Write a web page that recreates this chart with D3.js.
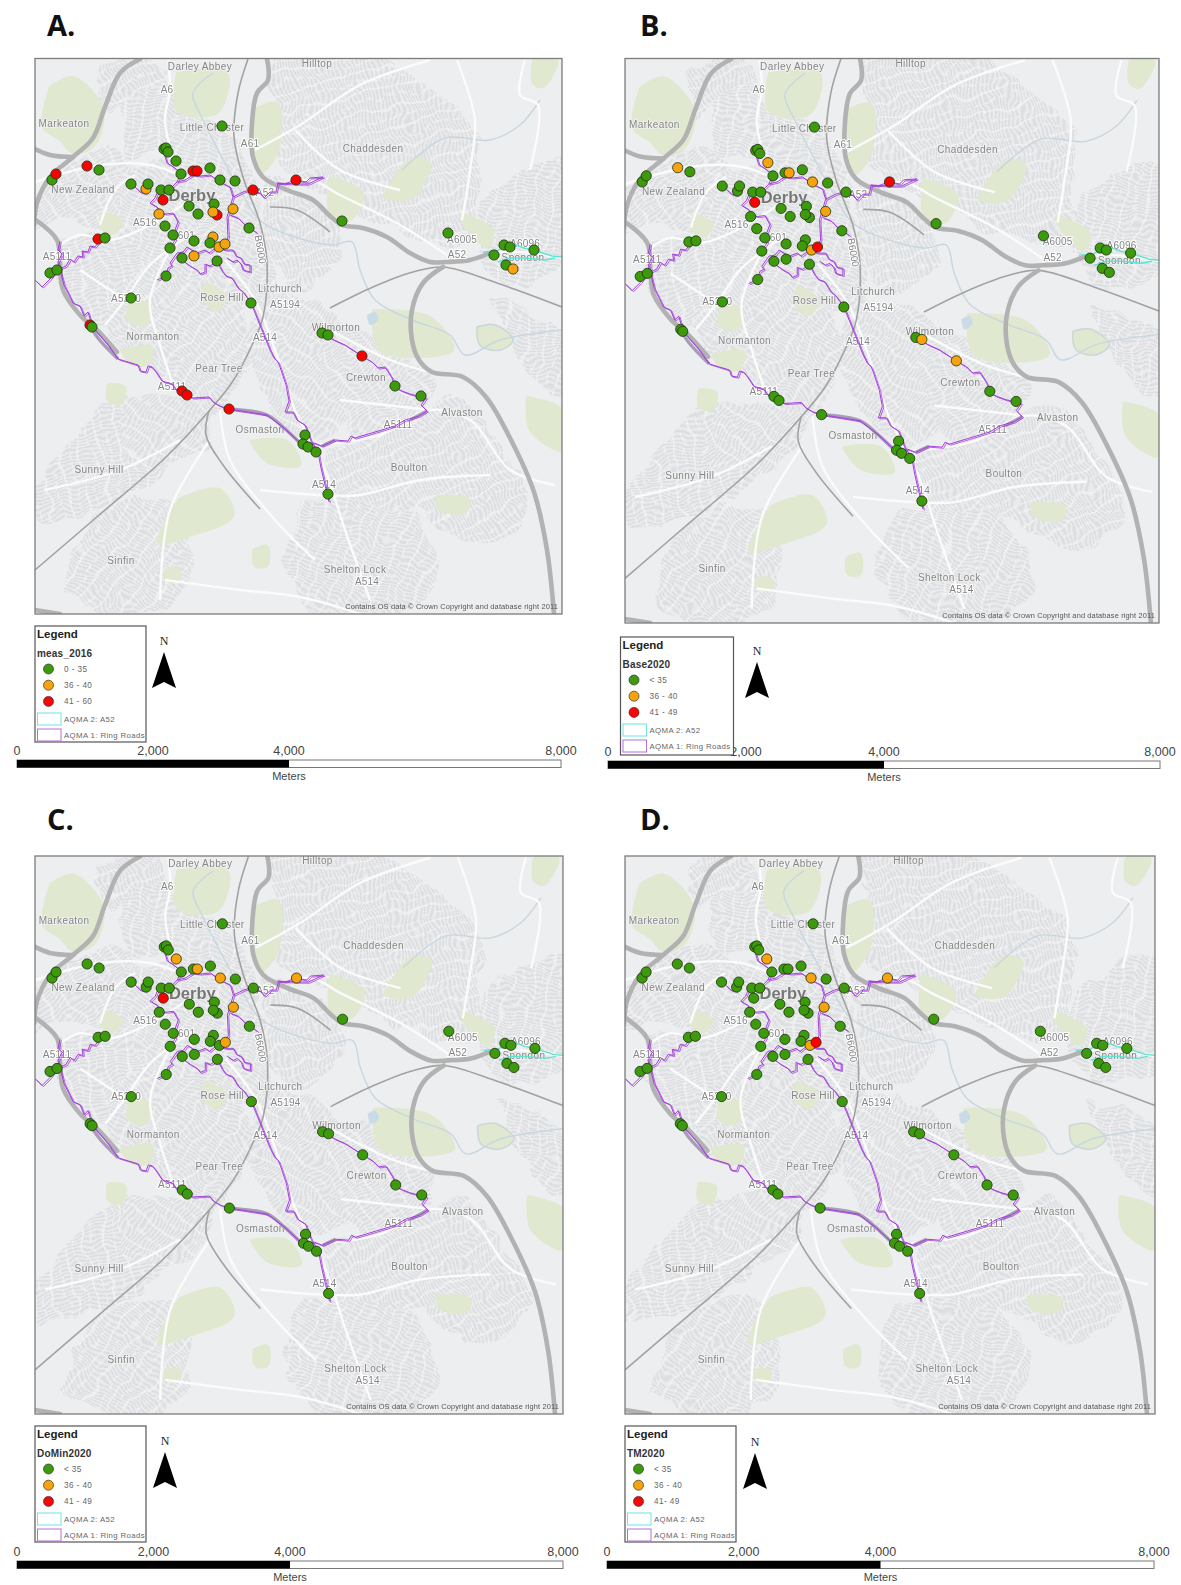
<!DOCTYPE html>
<html>
<head>
<meta charset="utf-8">
<script src="https://cdn.jsdelivr.net/npm/d3@7"></script>
<style>
  body { margin: 0; background: #fff; }
  text { font-family: "Liberation Sans", Arial, sans-serif; }
</style>
</head>
<body>
<div id="maps"></div>
<script>
// page size
var svgWidth = 1181;
var svgHeight = 1585;

// map units (same base map in all four panels)
var mapX = [35, 562];
var mapY = [58.5, 614];

// monitoring sites, map units
var sites = [
  [222,126],[164,149],[166,148],[168,152],[176,161],[181,174],[193,171],[197,171],[210,168],[220,180],
  [235,181],[253,190],[296,180],[52,180],[56,174],[87,166],[99,170],[131,184],[146,189],[148,184],
  [161,190],[169,190],[163,200],[159,214],[165,226],[173,235],[170,248],[194,241],[182,258],[194,256],
  [166,276],[189,206],[198,214],[217,215],[214,204],[213,212],[233,209],[249,228],[213,237],[210,243],
  [219,247],[225,244],[217,261],[251,303],[98,239],[105,238],[50,273],[57,270],[131,298],[90,325],
  [92,327],[322,333],[328,335],[362,356],[395,386],[421,396],[182,391],[187,395],[229,409],[305,435],
  [303,444],[308,447],[316,452],[328,494],[342,221],[448,233],[504,245],[510,247],[534,250],[494,255],
  [506,265],[513,269]
];

// concentration band of each site (0 low, 1 middle, 2 high), one list per panel
var meas2016 = [
  0,0,0,0,0,0,2,2,0,0,
  0,2,2,0,2,2,0,0,1,0,
  0,0,2,1,0,0,0,0,0,1,
  0,0,0,2,0,1,1,0,1,0,
  1,1,0,0,2,0,0,0,0,2,
  0,0,0,2,0,0,2,2,2,0,
  0,0,0,0,0,0,0,0,0,0,
  0,1
];
var base2020 = [
  0,0,0,0,1,0,0,1,0,1,
  0,0,2,0,0,1,0,0,0,0,
  0,0,2,0,0,0,0,0,0,0,
  0,0,0,0,0,0,1,0,0,0,
  1,2,0,0,0,0,0,0,0,0,
  0,0,1,1,0,0,0,0,0,0,
  0,0,0,0,0,0,0,0,0,0,
  0,0
];
var doMin2020 = [
  0,0,0,0,1,0,0,1,0,1,
  0,0,1,0,0,0,0,0,0,0,
  0,0,2,0,0,0,0,0,0,0,
  0,0,0,0,0,0,1,0,0,0,
  0,1,0,0,0,0,0,0,0,0,
  0,0,0,0,0,0,0,0,0,0,
  0,0,0,0,0,0,0,0,0,0,
  0,0
];
var tm2020 = [
  0,0,0,0,1,0,0,0,0,1,
  0,0,1,0,0,0,0,0,0,0,
  0,0,0,0,0,0,0,0,0,0,
  0,0,0,0,0,0,1,0,0,0,
  1,2,0,0,0,0,0,0,0,0,
  0,0,0,0,0,0,0,0,0,0,
  0,0,0,0,0,0,0,0,0,0,
  0,0
];

var bandColors = ["#3c9a0c", "#f7a30b", "#fb0505"];

// legend text
var bandsMeas = ["0 - 35", "36 - 40", "41 - 60"];
var bandsBase = ["< 35", "36 - 40", "41 - 49"];
var bandsTm = ["< 35", "36 - 40", "41- 49"];

// scale bar
var scaleTicks = [0, 2000, 4000, 8000];

// base map, map units
var urbanAreas = [
  [[122,95],[160,72],[180,112],[205,118],[232,135],[245,175],[200,170],[160,155],[128,155]],
  [[30,195],[75,158],[118,148],[140,178],[132,218],[102,230],[60,220],[30,235]],
  [[96,72],[125,58],[150,56],[165,75],[125,98],[108,115]],
  [[122,172],[245,165],[262,230],[272,305],[225,305],[138,280],[115,240]],
  [[56,238],[122,236],[145,278],[112,325],[85,315],[60,285]],
  [[106,322],[140,272],[228,296],[252,348],[210,415],[180,392],[150,366],[118,350]],
  [[262,296],[295,296],[345,326],[362,405],[312,436],[282,424],[248,348]],
  [[268,56],[375,56],[445,100],[478,130],[478,185],[470,240],[400,230],[340,200],[310,185],[280,165],[272,100]],
  [[486,190],[566,158],[566,268],[500,282],[476,240]],
  [[316,322],[360,326],[428,372],[428,405],[360,436],[336,402]],
  [[326,448],[420,416],[455,396],[498,442],[530,505],[480,545],[420,512],[330,506]],
  [[306,500],[412,515],[436,585],[385,618],[318,612],[284,562]],
  [[32,490],[120,400],[178,436],[148,486],[92,512],[40,520]],
  [[62,590],[98,515],[178,505],[182,596],[122,618]],
  [[126,396],[210,408],[194,456],[126,458]],
  [[262,175],[330,215],[345,250],[300,290],[272,262]],
  [[496,300],[562,330],[562,395],[520,360]]
];
var parks = [
  [[50,87],[73,77],[103,110],[93,147],[73,153],[60,140],[43,127]],
  [[177,73],[227,73],[217,113],[177,110]],
  [[253,110],[277,103],[277,153],[260,173]],
  [[383,197],[410,160],[430,163],[413,197],[397,200]],
  [[330,177],[363,193],[350,220],[330,213]],
  [[460,213],[493,230],[487,247],[463,223]],
  [[533,60],[557,60],[543,87],[533,83]],
  [[373,310],[430,317],[453,350],[380,350]],
  [[179,499],[219,489],[233,516],[189,536],[158,543]],
  [[436,496],[469,499],[466,512],[439,509]],
  [[253,550],[267,546],[267,566],[255,566]],
  [[165,570],[179,570],[179,580],[165,580]],
  [[121,350],[152,347],[148,364],[131,364]],
  [[527,397],[562,410],[562,450],[530,430]],
  [[108,384],[125,387],[121,404],[108,401]],
  [[250,441],[287,441],[300,465],[267,462]],
  [[104,212],[122,222],[112,234],[100,226]],
  [[130,300],[150,305],[145,325],[128,320]],
  [[205,283],[225,295],[218,310],[203,300]],
  [[477,327],[495,325],[513,340],[500,350],[480,345]]
];
var motorways = [
  [[140,59],[120,73],[105,107],[93,138],[73,157],[50,177],[37,203],[34,225]],
  [[33,148],[50,155],[73,157]],
  [[36,220],[57,240],[60,263],[63,290],[80,315],[97,330],[117,352]],
  [[267,59],[268,80],[257,93],[252,123],[253,157],[263,177],[287,190],[313,200],[330,216],[342,225],[363,228],[387,237],[410,253],[430,262],[447,262],[470,260],[490,253]],
  [[443,267],[423,283],[412,310],[412,340],[419,360],[432,372],[463,377],[486,397],[510,438],[534,492],[547,550],[554,614]],
  [[35,610],[60,614]]
];
var railways = [
  [[248,59],[238,93],[234,137],[243,177],[260,223],[267,263],[263,317],[253,343],[233,381],[209,411],[165,458],[98,516],[35,570]],
  [[209,411],[206,435],[223,465],[260,509]],
  [[270,207],[297,210],[330,232]],
  [[330,308],[373,287],[413,272],[443,267],[497,283],[562,307]]
];
var aRoads = [
  [[168,60],[170,90],[165,120],[175,165]],
  [[35,182],[100,165],[150,165],[190,180]],
  [[190,200],[150,225],[110,240],[80,235],[60,245]],
  [[190,235],[150,265],[125,300],[105,325]],
  [[225,260],[255,300],[275,350],[295,410],[325,470],[345,530],[370,600]],
  [[175,240],[150,300],[160,345],[175,390]],
  [[315,445],[380,435],[430,410],[470,420],[510,470],[555,485]],
  [[268,190],[310,180],[340,195],[400,225],[447,255]],
  [[255,150],[300,125],[360,85],[430,60]],
  [[457,60],[475,120],[470,170],[462,220]],
  [[260,490],[320,495],[360,495],[420,480],[490,475]],
  [[165,580],[240,590],[300,597],[360,614]],
  [[220,410],[230,460],[275,520],[315,560]],
  [[490,253],[520,252],[562,258]],
  [[525,60],[520,95],[538,105],[530,170]],
  [[100,225],[115,190],[135,175]],
  [[125,300],[80,270]],
  [[330,330],[390,360],[430,372]],
  [[340,400],[430,410]],
  [[160,600],[170,510],[210,440]],
  [[45,490],[120,470],[180,440]],
  [[295,130],[340,170],[400,190]]
];
var rivers = [
  [[213,73],[193,93],[203,120],[218,150],[240,190],[262,222],[330,245],[352,242],[360,270],[375,300],[412,320],[450,335],[465,355],[500,340],[562,330]],
  [[402,170],[445,138],[490,140],[520,125],[540,100]],
  [[477,327],[495,325],[513,340],[500,350],[480,345],[477,327]]
];
var lakes = [
  [[367,315],[375,312],[378,320],[370,325]]
];

// wider stretches of AQMA 1 where the dual carriageway shows grey inside the outline
var ringBands = [
  [[88,322],[98,338],[118,359]],
  [[229,409],[267,415],[284,428],[300,443]],
  [[322,446],[335,440]],
  [[410,420],[427,411]]
];
// AQMA 1 outline, map units
var ringRoads = [
  [[35,280],[42,287],[50,279],[57,270],[66,266],[70,259],[74,262],[78,256],[83,257],[82,251],[88,252],[90,246],[95,247],[100,240]],
  [[60,241],[58,250],[62,254],[58,262],[60,270],[64,285],[73,303],[80,306],[84,316],[88,312],[91,322],[95,330],[108,345],[118,359],[128,362],[138,365],[140,371],[146,372],[148,366],[152,367],[156,372],[162,381],[172,384],[176,390],[182,391],[192,398],[209,397],[213,402],[220,406],[229,409],[267,415],[284,428],[300,443],[314,443],[322,446],[335,440],[348,441],[351,436],[355,438],[375,432],[395,426],[405,420],[419,416],[427,411],[421,405],[426,398],[418,396],[410,394],[402,391],[396,388],[395,386],[392,378],[385,367],[378,368],[372,362],[362,356],[345,345],[334,340],[322,333]],
  [[217,261],[222,271],[226,276],[232,278],[238,288],[243,292],[251,303],[270,350],[274,358],[278,362],[280,367],[286,385],[289,401],[285,412],[293,412],[297,420],[305,425],[311,441],[318,452],[321,468],[325,485],[329,502]],
  [[157,280],[166,276],[168,268],[172,266],[170,263],[177,253],[183,252],[187,247],[192,250],[197,253],[205,250],[209,253],[217,247],[225,250],[233,250],[236,256],[241,258],[244,264],[250,265],[250,272],[243,270],[241,264],[237,260],[233,262],[227,258]],
  [[182,260],[190,266],[197,270],[200,274],[205,272],[205,264],[210,266],[215,263],[217,261]],
  [[170,248],[175,240],[175,230],[178,222],[173,213],[166,214],[160,213],[157,207],[150,203],[155,198],[157,193],[169,190],[177,182],[185,180],[193,175],[200,176],[210,175],[220,182],[230,187],[233,197],[243,192],[250,190],[260,193],[264,198],[270,192],[276,192],[278,183],[284,184],[296,180],[306,182],[310,178],[323,177],[308,184],[297,184],[277,183]],
  [[233,197],[227,217],[228,237],[225,244]],
  [[230,215],[238,218],[245,225],[257,233]],
  [[135,187],[140,192],[146,193]],
  [[163,150],[167,163],[172,166],[181,173],[177,182]]
];
// AQMA 2 outline, map units
var a52Area = [
  [[483,252],[497,251],[510,243],[524,248],[540,252],[552,256],[562,257]],
  [[498,262],[510,258],[525,258],[545,260],[555,258]]
];

// map labels: text, x, y
var placeLabels = [
  ["Darley Abbey",200,66],["Hilltop",317,63],["Markeaton",64,123],["Little Chester",212,127],
  ["New Zealand",83,189],["Rose Hill",222,297],["Litchurch",280,288],["Normanton",153,336],
  ["Chaddesden",373,148],["Spondon",523,257],["Wilmorton",336,327],["Crewton",366,377],
  ["Pear Tree",219,368],["Alvaston",462,412],["Osmaston",260,429],["Sunny Hill",99,469],
  ["Boulton",409,467],["Sinfin",121,560],["Shelton Lock",355,569]
];
var roadLabels = [
  ["A6",167,89],["A61",250,143],["A516",145,222],["A5111",57,256],["A52",265,192],
  ["A601",183,235],["A5194",285,304],["A5250",126,298],["A514",265,337],["A6005",462,239],
  ["A52",457,254],["A6096",525,243],["A5111",398,424],["A5111",172,386],["A514",324,484],
  ["A514",367,581],["A52",25,147]
];

// panel layout in page pixels
var panels = [
  { title: "A.", titleX: 47, titleY: 36, x: [35, 562], y: [58.5, 614], values: meas2016,
    field: "meas_2016", bands: bandsMeas, legend: [35, 626, 111, 116], north: 164, northY: 640,
    bar: [17, 561], barY: 760 },
  { title: "B.", titleX: 640, titleY: 36, x: [625, 1159], y: [58.5, 623], values: base2020,
    field: "Base2020", bands: bandsBase, legend: [620.5, 637, 113, 118], north: 757, northY: 650,
    bar: [608, 1160], barY: 761 },
  { title: "C.", titleX: 47, titleY: 830, x: [35, 563], y: [856, 1414], values: doMin2020,
    field: "DoMin2020", bands: bandsBase, legend: [35, 1426, 111, 116], north: 165, northY: 1440,
    bar: [17, 563], barY: 1561 },
  { title: "D.", titleX: 640, titleY: 830, x: [625, 1155], y: [856, 1414], values: tm2020,
    field: "TM2020", bands: bandsTm, legend: [625, 1426, 111, 116], north: 755, northY: 1441,
    bar: [607, 1154], barY: 1561 }
];

var svg = d3.select("#maps")
  .append("svg")
  .attr("width", svgWidth)
  .attr("height", svgHeight)
  .style("display", "block");

var defs = svg.append("defs");

defs.append("filter")
  .attr("id", "soft")
  .append("feGaussianBlur")
  .attr("stdDeviation", 0.4);

// bends the street tiles so the estates do not look like a ruled grid
var wobble = defs.append("filter")
  .attr("id", "wobble")
  .attr("x", "-5%").attr("y", "-5%").attr("width", "110%").attr("height", "110%");
wobble.append("feTurbulence")
  .attr("type", "fractalNoise")
  .attr("baseFrequency", 0.035)
  .attr("numOctaves", 2)
  .attr("seed", 7)
  .attr("result", "noise");
wobble.append("feDisplacementMap")
  .attr("in", "SourceGraphic")
  .attr("in2", "noise")
  .attr("scale", 20)
  .attr("xChannelSelector", "R")
  .attr("yChannelSelector", "G");

// street texture for the built up areas, one tile at a few angles
var streetAngles = [12, -35, 62, 24, -12, 40, -55, 75];
streetAngles.forEach(function(angle, i) {
  var tile = defs.append("pattern")
    .attr("id", "streets" + i)
    .attr("patternUnits", "userSpaceOnUse")
    .attr("width", 20)
    .attr("height", 12)
    .attr("patternTransform", "rotate(" + angle + ")");
  tile.append("rect").attr("width", 20).attr("height", 12).attr("fill", "#dddee1");
  [2, 6, 10].forEach(function(y) {
    tile.append("line").attr("x1", 0).attr("x2", 20).attr("y1", y).attr("y2", y)
      .attr("stroke", "#f8f8f8").attr("stroke-width", 1);
  });
  tile.append("line").attr("x1", 4).attr("x2", 4).attr("y1", 0).attr("y2", 12)
    .attr("stroke", "#f8f8f8").attr("stroke-width", 1.2);
  tile.append("line").attr("x1", 14).attr("x2", 14).attr("y1", 2).attr("y2", 10)
    .attr("stroke", "#f8f8f8").attr("stroke-width", 0.9);
});

panels.forEach(function(panel, p) { drawPanel(panel, p); });

function drawPanel(panel, p) {
  var xScale = d3.scaleLinear().domain(mapX).range(panel.x);
  var yScale = d3.scaleLinear().domain(mapY).range(panel.y);
  var path = d3.line().x(d => xScale(d[0])).y(d => yScale(d[1]));
  var smooth = d3.line().x(d => xScale(d[0])).y(d => yScale(d[1])).curve(d3.curveCatmullRom);

  svg.append("text")
    .attr("x", panel.titleX)
    .attr("y", panel.titleY)
    .attr("font-size", 29)
    .attr("font-weight", "bold")
    .style("font-family", "'Open Sans', sans-serif")
    .attr("fill", "#111")
    .text(panel.title);

  defs.append("clipPath")
    .attr("id", "frame" + p)
    .append("rect")
    .attr("x", panel.x[0])
    .attr("y", panel.y[0])
    .attr("width", panel.x[1] - panel.x[0])
    .attr("height", panel.y[1] - panel.y[0]);

  var map = svg.append("g")
    .attr("clip-path", "url(#frame" + p + ")")
    .append("g")
    .attr("filter", "url(#soft)");

  map.append("rect")
    .attr("x", panel.x[0])
    .attr("y", panel.y[0])
    .attr("width", panel.x[1] - panel.x[0])
    .attr("height", panel.y[1] - panel.y[0])
    .attr("fill", "#eceef0");

  map.append("g")
    .attr("filter", "url(#wobble)")
    .selectAll("path")
    .data(urbanAreas)
    .enter()
    .append("path")
    .attr("d", d => smooth(d.concat([d[0]])))
    .attr("fill", (d, i) => "url(#streets" + (i % streetAngles.length) + ")");

  map.selectAll(".park")
    .data(parks)
    .enter()
    .append("path")
    .attr("d", d => smooth(d.concat([d[0]])))
    .attr("fill", "#e0e8d0")
    .attr("stroke", "#e0e8d0")
    .attr("stroke-linejoin", "round")
    .attr("stroke-width", 2);

  map.selectAll(".lake")
    .data(lakes)
    .enter()
    .append("path")
    .attr("d", d => smooth(d.concat([d[0]])))
    .attr("fill", "#c9dbe6");

  map.selectAll(".river")
    .data(rivers)
    .enter()
    .append("path")
    .attr("d", d => smooth(d))
    .attr("fill", "none")
    .attr("stroke", "#c8d7df")
    .attr("stroke-width", 1.4);

  map.selectAll(".aroad")
    .data(aRoads)
    .enter()
    .append("path")
    .attr("d", d => smooth(d))
    .attr("fill", "none")
    .attr("stroke", "#fbfbfb")
    .attr("stroke-width", 2.4);

  map.selectAll(".rail")
    .data(railways)
    .enter()
    .append("path")
    .attr("d", d => smooth(d))
    .attr("fill", "none")
    .attr("stroke", "#a2a2a2")
    .attr("stroke-width", 1.6);

  map.selectAll(".motorway")
    .data(motorways)
    .enter()
    .append("path")
    .attr("d", d => smooth(d))
    .attr("fill", "none")
    .attr("stroke", "#b2b2b2")
    .attr("stroke-linecap", "round")
    .attr("stroke-width", 4.6);

  // place names and road numbers
  map.selectAll(".place")
    .data(placeLabels)
    .enter()
    .append("text")
    .attr("x", d => xScale(d[1]))
    .attr("y", d => yScale(d[2]) + 3.5)
    .attr("text-anchor", "middle")
    .attr("font-size", 10)
    .attr("letter-spacing", 0.4)
    .attr("fill", "#858585")
    .attr("stroke", "#f2f2f2")
    .attr("stroke-width", 1.6)
    .attr("paint-order", "stroke")
    .text(d => d[0]);

  map.selectAll(".road")
    .data(roadLabels)
    .enter()
    .append("text")
    .attr("x", d => xScale(d[1]))
    .attr("y", d => yScale(d[2]) + 3.5)
    .attr("text-anchor", "middle")
    .attr("font-size", 10)
    .attr("letter-spacing", 0.2)
    .attr("fill", "#858585")
    .attr("stroke", "#fff")
    .attr("stroke-width", 2)
    .attr("paint-order", "stroke")
    .text(d => d[0]);

  map.append("text")
    .attr("transform", "translate(" + xScale(257) + "," + yScale(250) + ") rotate(80)")
    .attr("text-anchor", "middle")
    .attr("font-size", 10)
    .attr("fill", "#858585")
    .attr("stroke", "#fff")
    .attr("stroke-width", 2)
    .attr("paint-order", "stroke")
    .text("B6000");

  map.append("text")
    .attr("x", xScale(192))
    .attr("y", yScale(195) + 6)
    .attr("text-anchor", "middle")
    .attr("font-size", 16.5)
    .attr("font-weight", "bold")
    .attr("fill", "#777")
    .attr("stroke", "#eee")
    .attr("stroke-width", 1.6)
    .attr("paint-order", "stroke")
    .text("Derby");

  map.append("text")
    .attr("x", panel.x[1] - 4)
    .attr("y", panel.y[1] - 5)
    .attr("text-anchor", "end")
    .attr("font-size", 7.4)
    .attr("letter-spacing", 0.15)
    .attr("fill", "#555")
    .text("Contains OS data © Crown Copyright and database right 2011");

  // AQMA outlines: the polygon edge runs either side of the road, so draw it twice
  var aqma = map.append("g").attr("fill", "none").attr("stroke-linejoin", "round");
  aqma.selectAll(".band")
    .data(ringBands)
    .enter()
    .append("path")
    .attr("d", d => smooth(d))
    .attr("stroke", "#a79db6")
    .attr("stroke-width", 3.4);
  aqma.selectAll(".ring")
    .data(ringRoads)
    .enter()
    .append("path")
    .attr("d", d => path(d))
    .attr("stroke", "#a340dc")
    .attr("stroke-width", 1);
  aqma.selectAll(".ring2")
    .data(ringRoads)
    .enter()
    .append("path")
    .attr("d", d => path(d))
    .attr("transform", "translate(1.4,1.1)")
    .attr("stroke", "#a340dc")
    .attr("stroke-width", 0.8);
  aqma.selectAll(".a52")
    .data(a52Area)
    .enter()
    .append("path")
    .attr("d", d => path(d))
    .attr("stroke", "#5fe3d3")
    .attr("stroke-width", 1.4);

  // monitoring sites
  map.selectAll(".site")
    .data(sites)
    .enter()
    .append("circle")
    .attr("cx", d => xScale(d[0]))
    .attr("cy", d => yScale(d[1]))
    .attr("r", 5.1)
    .attr("fill", (d, i) => bandColors[panel.values[i]])
    .attr("stroke", "#1c2f0c")
    .attr("stroke-width", 0.8);

  // frame
  svg.append("rect")
    .attr("x", panel.x[0])
    .attr("y", panel.y[0])
    .attr("width", panel.x[1] - panel.x[0])
    .attr("height", panel.y[1] - panel.y[0])
    .attr("fill", "none")
    .attr("stroke", "#7c7c7c")
    .attr("stroke-width", 1.3);

  drawScaleBar(panel);
  drawLegend(panel);
  drawNorth(panel);
}

function drawScaleBar(panel) {
  var barScale = d3.scaleLinear().domain([0, 8000]).range(panel.bar);
  var g = svg.append("g");

  g.append("rect")
    .attr("x", barScale(0))
    .attr("y", panel.barY)
    .attr("width", barScale(8000) - barScale(0))
    .attr("height", 7.5)
    .attr("fill", "#fff")
    .attr("stroke", "#777");
  g.append("rect")
    .attr("x", barScale(0))
    .attr("y", panel.barY)
    .attr("width", barScale(4000) - barScale(0))
    .attr("height", 7.5)
    .attr("fill", "#000");

  g.selectAll("text")
    .data(scaleTicks)
    .enter()
    .append("text")
    .attr("x", d => barScale(d))
    .attr("y", panel.barY - 5)
    .attr("text-anchor", "middle")
    .attr("font-size", 12.5)
    .attr("fill", "#444")
    .text(d => d3.format(",")(d));

  g.append("text")
    .attr("x", barScale(4000))
    .attr("y", panel.barY + 20)
    .attr("text-anchor", "middle")
    .attr("font-size", 11)
    .attr("fill", "#444")
    .text("Meters");
}

function drawLegend(panel) {
  var lx = panel.legend[0], ly = panel.legend[1];
  var g = svg.append("g");

  g.append("rect")
    .attr("x", lx)
    .attr("y", ly)
    .attr("width", panel.legend[2])
    .attr("height", panel.legend[3])
    .attr("fill", "#fff")
    .attr("stroke", "#555")
    .attr("stroke-width", 1.2);

  g.append("text")
    .attr("x", lx + 2)
    .attr("y", ly + 11.5)
    .attr("font-size", 11.5)
    .attr("font-weight", "bold")
    .attr("fill", "#222")
    .text("Legend");

  g.append("text")
    .attr("x", lx + 2)
    .attr("y", ly + 31)
    .attr("font-size", 10)
    .attr("font-weight", "bold")
    .attr("letter-spacing", 0.2)
    .attr("fill", "#333")
    .text(panel.field);

  panel.bands.forEach(function(label, i) {
    g.append("circle")
      .attr("cx", lx + 13.5)
      .attr("cy", ly + 43 + i * 16.2)
      .attr("r", 5)
      .attr("fill", bandColors[i])
      .attr("stroke", "#333")
      .attr("stroke-width", 0.7);
    g.append("text")
      .attr("x", lx + 29)
      .attr("y", ly + 46 + i * 16.2)
      .attr("font-size", 8.2)
      .attr("letter-spacing", 0.4)
      .attr("fill", "#666")
      .text(label);
  });

  var zones = [["AQMA 2: A52", "#6fe6da"], ["AQMA 1: Ring Roads", "#b56ce0"]];
  zones.forEach(function(zone, i) {
    g.append("rect")
      .attr("x", lx + 2.5)
      .attr("y", ly + 87 + i * 16)
      .attr("width", 23.5)
      .attr("height", 12)
      .attr("fill", "#fff")
      .attr("stroke", zone[1])
      .attr("stroke-width", 1);
    g.append("text")
      .attr("x", lx + 29)
      .attr("y", ly + 96 + i * 16)
      .attr("font-size", 7.8)
      .attr("letter-spacing", 0.38)
      .attr("fill", "#666")
      .text(zone[0]);
  });
}

function drawNorth(panel) {
  var g = svg.append("g")
    .attr("transform", "translate(" + panel.north + "," + panel.northY + ")");
  g.append("text")
    .attr("y", 5)
    .attr("text-anchor", "middle")
    .attr("font-size", 12)
    .style("font-family", "'Liberation Serif', serif")
    .attr("fill", "#222")
    .text("N");
  g.append("path")
    .attr("d", "M0,12L12,48L0,42L-12,48Z")
    .attr("fill", "#000");
}
</script>
</body>
</html>
